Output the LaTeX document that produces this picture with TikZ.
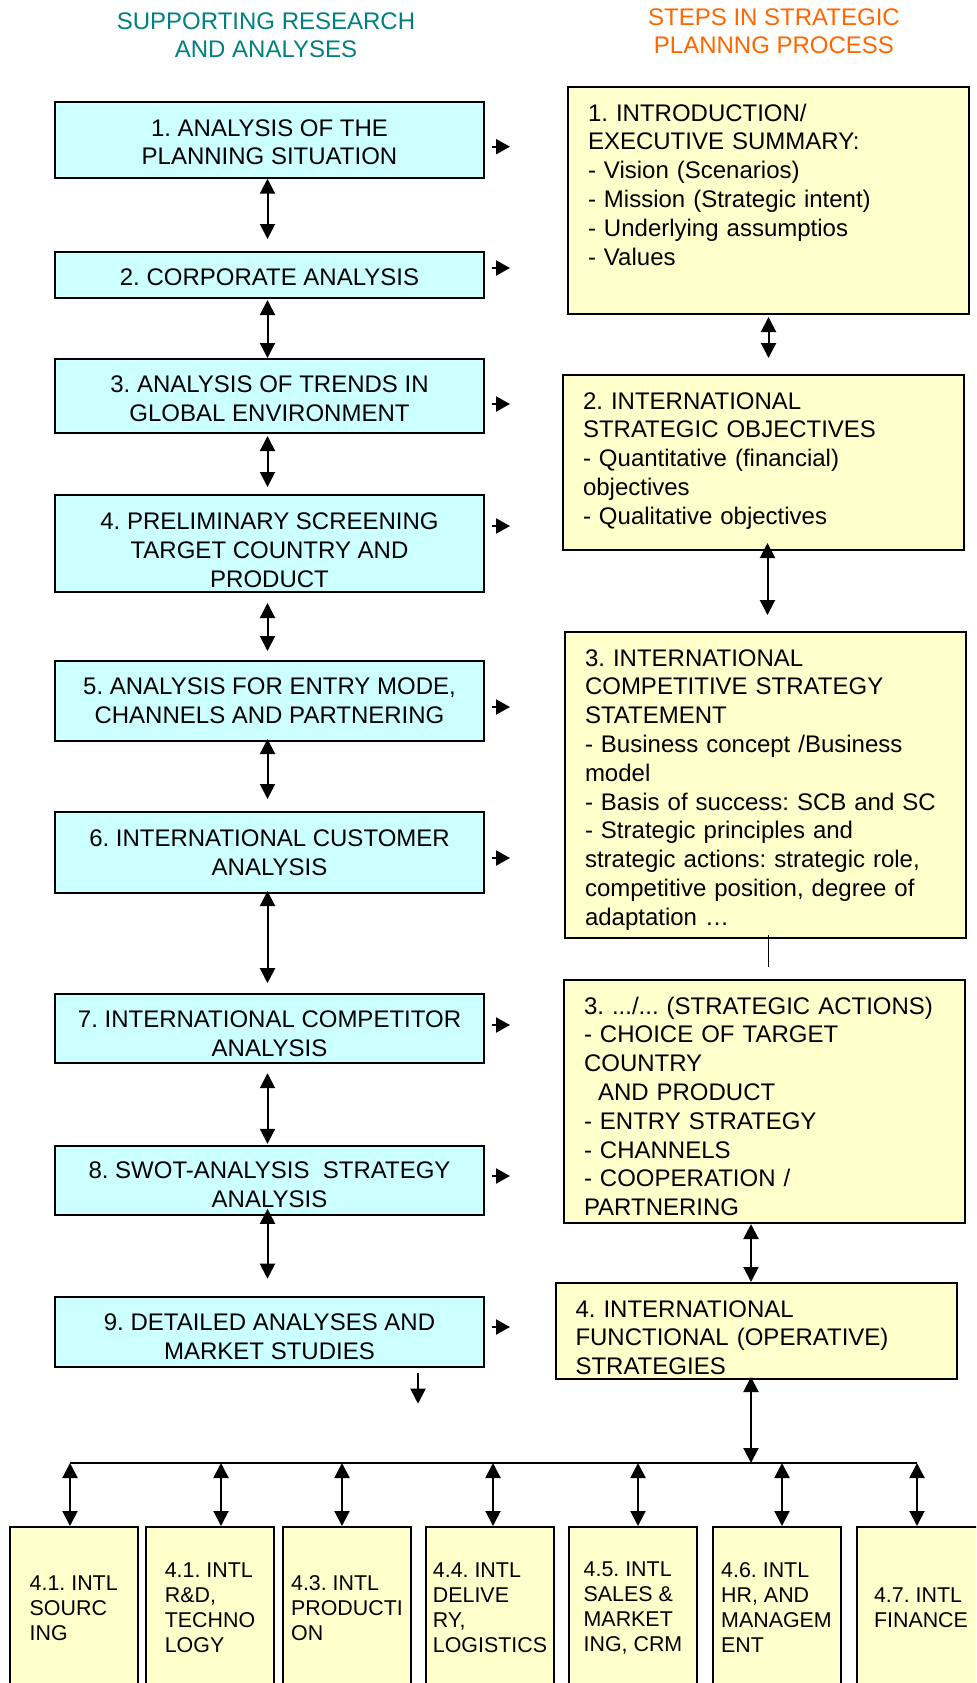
\documentclass[tikz,border=0pt]{standalone}
\usepackage{fontspec}
\setmainfont{Liberation Sans}
\usepackage{tikz}
\usetikzlibrary{arrows.meta, calc}
\frenchspacing

\definecolor{anafill}{RGB}{204,255,255}
\definecolor{stepfill}{RGB}{255,255,204}
\definecolor{headteal}{RGB}{0,128,128}
\definecolor{headorange}{RGB}{255,102,0}

\tikzset{
  anabox/.style={draw, line width=1pt, fill=anafill, align=center,
    minimum width=214.5pt, inner sep=2pt, font=\fontsize{12}{14.4}\selectfont},
  stepbox/.style={draw, line width=1pt, fill=stepfill, anchor=north west,
    align=left, text width=180.5pt, inner xsep=10pt, inner ysep=7pt,
    text height=10pt, font=\fontsize{12}{14.4}\selectfont},
  funcbox/.style={draw, line width=1pt, fill=stepfill, align=left,
    minimum width=64pt, minimum height=81pt, inner sep=2pt,
    font=\fontsize{10.7}{12.5}\selectfont},
  headline/.style={align=center, font=\fontsize{12}{14}\selectfont},
  twoway/.style={line width=1pt,
    {Triangle[width=7.5pt,length=7.5pt]}-{Triangle[width=7.5pt,length=7.5pt]}},
  oneway/.style={line width=1pt, -{Triangle[width=7.5pt,length=7.5pt]}},
  feed/.style={line width=1pt, -{Triangle[width=7.5pt,length=7pt]}},
}

\begin{document}
\begin{tikzpicture}[x=0.5pt,y=-0.5pt] % 1 单位 = 1 像素, y 轴向下
  \useasboundingbox (0,0) rectangle (976,1683);
  \clip (0,0) rectangle (976,1683);

  % 两列标题
  \node[headline, text=headteal] (hleft) at (266,35.5) {SUPPORTING RESEARCH\\AND ANALYSES};
  \node[headline, text=headorange] (hright) at (774,31.7) {STEPS IN STRATEGIC\\PLANNNG PROCESS};

  % 左列: 分析 (\rule 把文字略往下压)
  \node[anabox, minimum height=38pt]   (a1) at (269.5,139.7)  {\rule{0pt}{11pt}1. ANALYSIS OF THE\\PLANNING SITUATION};
  \node[anabox, minimum height=23pt]   (a2) at (269.5,275)    {\rule{0pt}{11pt}2. CORPORATE ANALYSIS};
  \node[anabox, minimum height=37pt]   (a3) at (269.5,396)    {\rule{0pt}{11pt}3. ANALYSIS OF TRENDS IN\\GLOBAL ENVIRONMENT};
  \node[anabox, minimum height=48.5pt] (a4) at (269.5,543.5)  {\rule{0pt}{15pt}4. PRELIMINARY SCREENING\\TARGET COUNTRY AND\\PRODUCT};
  \node[anabox, minimum height=40pt]   (a5) at (269.5,701)    {5. ANALYSIS FOR ENTRY MODE,\\CHANNELS AND PARTNERING};
  \node[anabox, minimum height=40.5pt] (a6) at (269.5,852.5)  {6. INTERNATIONAL CUSTOMER\\ANALYSIS};
  \node[anabox, minimum height=34.5pt] (a7) at (269.5,1028.7) {\rule{0pt}{13pt}7. INTERNATIONAL COMPETITOR\\ANALYSIS};
  \node[anabox, minimum height=34.5pt] (a8) at (269.5,1180.3) {\rule{0pt}{13pt}8. SWOT-ANALYSIS~ STRATEGY\\ANALYSIS};
  \node[anabox, minimum height=35pt]   (a9) at (269.5,1331.7) {\rule{0pt}{13pt}9. DETAILED ANALYSES AND\\MARKET STUDIES};

  % 右列: 规划步骤
  \node[stepbox, text depth=89.5pt] (s1) at (567,86)
    {1. INTRODUCTION/\\EXECUTIVE SUMMARY:\\- Vision (Scenarios)\\- Mission (Strategic intent)\\- Underlying assumptios\\- Values};
  \node[stepbox, text depth=63.5pt] (s2) at (562,374)
    {2. INTERNATIONAL\\STRATEGIC OBJECTIVES\\- Quantitative (financial)\\objectives\\- Qualitative objectives};
  \node[stepbox, text depth=129pt] (s3) at (564,631)
    {3. INTERNATIONAL\\COMPETITIVE STRATEGY\\STATEMENT\\- Business concept /Business\\model\\- Basis of success: SCB and SC\\- Strategic principles and\\strategic actions: strategic role,\\competitive position, degree of\\adaptation …};
  \node[stepbox, text depth=97.5pt] (s4) at (563,979)
    {3. .../... (STRATEGIC ACTIONS)\\- CHOICE OF TARGET\\COUNTRY\\\hspace*{7pt}AND PRODUCT\\- ENTRY STRATEGY\\- CHANNELS\\- COOPERATION /\\PARTNERING};
  \node[stepbox, text depth=24pt] (s5) at (554.5,1282)
    {4. INTERNATIONAL\\FUNCTIONAL (OPERATIVE)\\STRATEGIES};

  % 底行: 职能战略
  \node[funcbox] (f1) at (73.7,1608)  {4.1. INTL\\SOURC\\ING};
  \node[funcbox] (f2) at (210,1608)   {4.1. INTL\\R\&D,\\TECHNO\\LOGY};
  \node[funcbox] (f3) at (347,1608)   {4.3. INTL\\PRODUCTI\\ON};
  \node[funcbox] (f4) at (490,1608)   {4.4. INTL\\DELIVE\\RY,\\LOGISTICS};
  \node[funcbox] (f5) at (633,1608)   {4.5. INTL\\SALES \&\\MARKET\\ING, CRM};
  \node[funcbox] (f6) at (776.5,1608) {4.6. INTL\\HR, AND\\MANAGEM\\ENT};
  \node[funcbox] (f7) at (921,1608)   {4.7. INTL\\FINANCE};

  % 左列之间的双向箭头
  \foreach \i/\j/\s/\e in {1/2/0/6, 2/3/0.5/0, 3/4/1/3.5, 4/5/5/4.5,
                           5/6/-1.5/6, 6/7/-1.5/5, 7/8/4.5/0.5, 8/9/-3.5/8.5}
    \draw[twoway, shorten <=\s pt, shorten >=\e pt]
      ([xshift=-1pt]a\i.south) -- ([xshift=-1pt]a\j.north);
  \draw[oneway] ([shift={(148.5,5)}]a9.south) -- ++(0,31);

  % 指向右列的短箭头
  \foreach \n/\dy in {1/7, 2/-7, 3/8, 4/-17.5, 5/6, 6/5.5, 7/-3.7, 8/-4.3, 9/-4.7}
    \draw[feed] ([shift={(7,\dy)}]a\n.east) -- ++(18,0);

  % 右列之间的连接
  \coordinate (bus)  at (751,1463);
  \coordinate (busw) at (70,1463);
  \coordinate (buse) at (917,1463);
  \draw[twoway, shorten <=1pt, shorten >=8pt] (s1.south) -- (s1.south |- s2.north);
  \draw[twoway, shorten <=-4pt, shorten >=8pt]
    ([xshift=2pt]s2.south) -- ([xshift=2pt]s2.south |- s3.north);
  \draw[line width=0.8pt, shorten <=-2pt, shorten >=6pt]
    ([xshift=1.5pt]s3.south) -- ([xshift=1.5pt]s3.south |- s4.north);
  \draw[twoway] (s4.south -| bus) -- (s5.north -| bus);
  \draw[twoway, shorten <=-1.5pt] (s5.south -| bus) -- (bus);

  % 汇流线及其分支
  \draw[line width=0.7pt] (busw) -- (buse);
  \foreach \n/\dx in {1/-3.7, 2/11, 3/-5, 4/3, 5/5, 6/5.5, 7/-4}
    \draw[twoway] ([shift={(\dx,0)}]f\n.north |- bus) -- ([shift={(\dx,0)}]f\n.north);
\end{tikzpicture}
\end{document}
